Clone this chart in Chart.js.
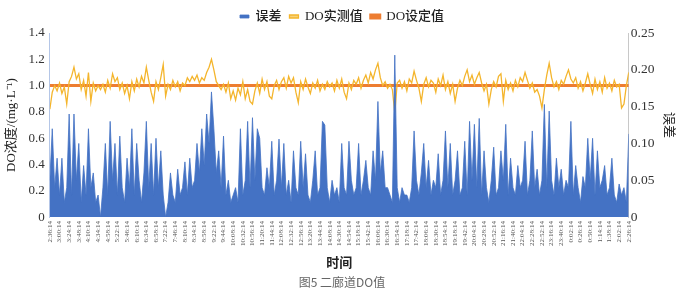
<!DOCTYPE html>
<html lang="zh">
<head>
  <meta charset="UTF-8">
  <title>二廊道DO值</title>
  <script src="https://cdn.jsdelivr.net/npm/chart.js"></script>
  <style>
    body { margin: 0; background: #fff; }
    .grafico { width: 689px; height: 296px; }
  </style>
</head>
<body>
  <div class="grafico">
    <canvas id="graficoDO"></canvas>
  </div>

  <script>
    // rótulos do eixo x (um a cada 4 pontos)
    const tickLabels = [
      '2:36:14', '3:00:14', '3:24:14', '3:48:14', '4:10:14', '4:34:14', '4:58:14', '5:22:14', '5:46:14', '6:10:14',
      '6:34:14', '6:58:14', '7:22:14', '7:46:14', '8:10:14', '8:34:14', '8:58:14', '9:22:14', '9:44:14', '10:08:14',
      '10:32:14', '10:56:14', '11:20:14', '11:44:14', '12:08:14', '12:32:14', '12:56:14', '13:20:14', '13:44:14', '14:08:14',
      '14:30:14', '14:54:14', '15:18:14', '15:42:14', '16:06:14', '16:30:14', '16:54:14', '17:18:14', '17:42:14', '18:06:14',
      '18:30:14', '18:54:14', '19:18:14', '19:42:14', '20:04:14', '20:28:14', '20:52:14', '21:16:14', '21:40:14', '22:04:14',
      '22:28:14', '22:52:14', '23:16:14', '23:40:14', '0:02:14', '0:26:14', '0:50:14', '1:14:14', '1:38:14', '2:02:14',
      '2:26:14'
    ];

    // 误差 (eixo direito)
    const erro = [
      0.05, 0.12, 0.04, 0.08, 0.03, 0.08, 0.02, 0.04, 0.14, 0.03,
      0.14, 0.05, 0.10, 0.02, 0.07, 0.03, 0.12, 0.04, 0.06, 0.02,
      0.03, 0.00, 0.04, 0.10, 0.03, 0.13, 0.05, 0.10, 0.03, 0.11,
      0.04, 0.02, 0.08, 0.04, 0.12, 0.03, 0.10, 0.05, 0.02, 0.06,
      0.13, 0.04, 0.10, 0.03, 0.107, 0.04, 0.09, 0.03, 0.00, 0.02,
      0.06, 0.03, 0.02, 0.065, 0.03, 0.04, 0.075, 0.03, 0.08, 0.04,
      0.05, 0.10, 0.06, 0.12, 0.07, 0.14, 0.10, 0.17, 0.12, 0.06,
      0.09, 0.04, 0.11, 0.03, 0.05, 0.02, 0.03, 0.04, 0.02, 0.12,
      0.03, 0.05, 0.13, 0.04, 0.135, 0.05, 0.12, 0.107, 0.04, 0.03,
      0.067, 0.04, 0.103, 0.03, 0.05, 0.106, 0.04, 0.10, 0.03, 0.05,
      0.02, 0.09, 0.04, 0.03, 0.103, 0.04, 0.086, 0.03, 0.02, 0.05,
      0.09, 0.03, 0.04, 0.13, 0.125, 0.04, 0.02, 0.05, 0.03, 0.04,
      0.02, 0.10, 0.04, 0.03, 0.103, 0.05, 0.03, 0.04, 0.10, 0.03,
      0.05, 0.077, 0.04, 0.03, 0.09, 0.05, 0.157, 0.06, 0.09, 0.04,
      0.04, 0.03, 0.02, 0.22, 0.04, 0.02, 0.04, 0.03, 0.03, 0.02,
      0.04, 0.117, 0.05, 0.03, 0.06, 0.10, 0.04, 0.077, 0.03, 0.05,
      0.04, 0.086, 0.03, 0.05, 0.117, 0.04, 0.10, 0.03, 0.05, 0.09,
      0.03, 0.04, 0.103, 0.03, 0.13, 0.05, 0.126, 0.04, 0.134, 0.03,
      0.09, 0.04, 0.02, 0.05, 0.095, 0.03, 0.04, 0.09, 0.05, 0.126,
      0.03, 0.08, 0.04, 0.03, 0.07, 0.04, 0.05, 0.103, 0.03, 0.05,
      0.117, 0.04, 0.065, 0.03, 0.05, 0.153, 0.04, 0.144, 0.05, 0.03,
      0.08, 0.04, 0.065, 0.03, 0.05, 0.04, 0.13, 0.03, 0.07, 0.04,
      0.02, 0.055, 0.04, 0.107, 0.05, 0.107, 0.03, 0.09, 0.04, 0.05,
      0.07, 0.03, 0.04, 0.08, 0.03, 0.02, 0.045, 0.03, 0.04, 0.02,
      0.113
    ];

    // DO实测值 (eixo esquerdo)
    const doMedido = [
      0.82, 0.95, 1.00, 0.96, 1.02, 0.94, 0.99, 0.86, 1.03, 1.07,
      1.14, 1.05, 1.09, 0.97, 1.04, 0.92, 1.10, 0.88, 1.02, 0.96,
      1.00, 0.97, 1.01, 0.95, 1.04, 0.98, 1.09, 1.03, 1.06, 0.97,
      1.02, 0.94, 1.00, 0.90, 1.03, 0.96, 1.05, 0.99, 1.07, 1.02,
      1.14, 1.04, 0.95, 0.88, 1.03, 0.97, 1.06, 1.16, 0.92, 1.01,
      0.97, 1.04, 0.99, 1.03, 0.96, 1.02, 1.00, 1.06, 1.03, 1.07,
      1.04, 1.08, 1.02, 1.06, 1.04, 1.10, 1.14, 1.20, 1.12, 1.03,
      1.00, 0.97, 1.01, 0.95, 1.02, 0.90, 0.96, 0.89, 0.98, 0.93,
      1.03, 0.90, 0.97, 0.88, 0.86, 0.96, 1.02, 0.94, 1.05, 0.97,
      1.03, 0.92, 0.90, 1.00, 1.04, 0.97, 1.03, 1.06, 0.98, 1.07,
      1.02, 1.06, 0.95, 0.87, 1.03, 0.97, 1.05, 0.99, 0.94, 1.02,
      0.98, 1.04, 0.96, 1.01, 0.97, 1.03, 0.99, 1.02, 0.96, 1.04,
      0.98, 1.05, 0.95, 0.90, 1.02, 0.97, 1.04, 1.01, 1.06, 0.98,
      1.04, 1.08, 1.02, 1.10, 1.05, 1.12, 1.17, 1.06, 1.00, 1.03,
      0.98, 1.01, 0.97, 0.79, 1.02, 1.04, 0.98, 1.03, 0.96, 1.05,
      1.02, 1.11, 1.04, 0.98, 0.88, 1.01, 1.06, 0.99, 1.04, 1.02,
      0.95, 1.05, 1.00, 1.08, 0.97, 1.03, 0.94, 1.01, 0.88, 0.98,
      1.04, 1.00, 1.07, 1.12, 1.03, 1.08, 1.01, 1.06, 1.10, 1.02,
      0.96, 1.01, 0.86, 0.97, 1.03, 0.99, 1.07, 1.09, 0.88, 1.04,
      0.97, 1.02, 0.96, 1.04, 0.99, 1.06, 1.03, 1.10, 1.04, 0.98,
      1.02, 0.95, 0.97, 0.92, 0.83, 0.97, 1.08, 1.17, 1.06, 0.99,
      1.03, 0.97, 1.04, 1.01, 1.07, 1.12, 1.05, 1.02, 1.06, 0.98,
      1.03, 0.96, 1.02, 1.09, 1.01, 0.94, 1.05, 0.97, 1.03, 0.95,
      1.06, 0.98, 1.02, 0.96, 1.04, 0.99, 1.01, 0.83, 0.86, 1.00,
      1.10
    ];

    // DO设定值: constante do início ao fim
    const doSetado = [1.0, 1.0];

    const pontos = erro.map((_, i) => i);
    const fonteSerif = "'Liberation Serif', 'Noto Sans CJK SC', serif";

    const ctx = document.getElementById('graficoDO');
    new Chart(ctx, {
      type: 'line',
      data: {
        labels: pontos,
        datasets: [
          {
            label: '误差',
            data: erro,
            yAxisID: 'y1',
            borderColor: '#4472c4',
            backgroundColor: '#4472c4',
            borderWidth: 0.8,
            fill: 'origin',
            pointRadius: 0,
            tension: 0
          },
          {
            label: 'DO实测值',
            data: doMedido,
            yAxisID: 'y',
            borderColor: '#f4b52c',
            backgroundColor: '#f7d27a',
            borderWidth: 1.3,
            fill: false,
            pointRadius: 0,
            tension: 0
          },
          {
            label: 'DO设定值',
            data: [
              { x: pontos[0], y: doSetado[0] },
              { x: pontos[pontos.length - 1], y: doSetado[1] }
            ],
            yAxisID: 'y',
            borderColor: '#ed7d31',
            backgroundColor: '#ed7d31',
            borderWidth: 3,
            fill: false,
            pointRadius: 0
          }
        ]
      },
      options: {
        responsive: true,
        maintainAspectRatio: false,
        animation: false,
        layout: { padding: { left: 2, right: 7, top: 2, bottom: 2 } },
        plugins: {
          legend: {
            position: 'top',
            labels: {
              boxWidth: 9,
              boxHeight: 3,
              color: '#222',
              padding: 8,
              font: { family: fonteSerif, size: 13, weight: 500 }
            }
          },
          title: {
            display: true,
            position: 'bottom',
            text: '图5 二廊道DO值',
            color: '#666',
            padding: { top: 3, bottom: 4 },
            font: { family: "'Noto Sans CJK SC', sans-serif", size: 12, weight: 'normal' }
          },
          tooltip: { enabled: false }
        },
        scales: {
          x: {
            type: 'linear',
            min: 0,
            max: 240,
            grid: { display: false, drawTicks: false },
            border: { display: false },
            ticks: {
              stepSize: 4,
              maxTicksLimit: 100,
              autoSkip: false,
              minRotation: 90,
              maxRotation: 90,
              padding: 4,
              color: '#555',
              font: { family: fonteSerif, size: 7 },
              callback: (v) => tickLabels[v / 4]
            },
            title: {
              display: true,
              text: '时间',
              color: '#222',
              padding: { top: 6, bottom: 1 },
              font: { family: fonteSerif, size: 13, weight: 'bold' }
            }
          },
          y: {
            position: 'left',
            min: 0,
            max: 1.4,
            grid: { display: false, drawTicks: false },
            border: { display: true, color: '#b4c6e7' },
            ticks: {
              stepSize: 0.2,
              padding: 5,
              color: '#333',
              font: { family: fonteSerif, size: 13 },
              callback: (v) => v === 0 ? '0' : v.toFixed(1)
            },
            title: {
              display: true,
              text: 'DO浓度/(mg·L⁻¹)',
              color: '#222',
              padding: { top: 2, bottom: 4 },
              font: { family: fonteSerif, size: 13 }
            }
          },
          y1: {
            position: 'right',
            min: 0,
            max: 0.25,
            grid: { display: false, drawTicks: false },
            border: { display: true, color: '#c8c8c8' },
            ticks: {
              stepSize: 0.05,
              padding: 2,
              color: '#333',
              font: { family: fonteSerif, size: 13.5 },
              callback: (v) => v === 0 ? '0' : v.toFixed(2)
            },
            title: {
              display: true,
              text: '误差',
              color: '#222',
              padding: { top: 6, bottom: 4 },
              font: { family: fonteSerif, size: 13 }
            }
          }
        }
      }
    });
  </script>
</body>
</html>
